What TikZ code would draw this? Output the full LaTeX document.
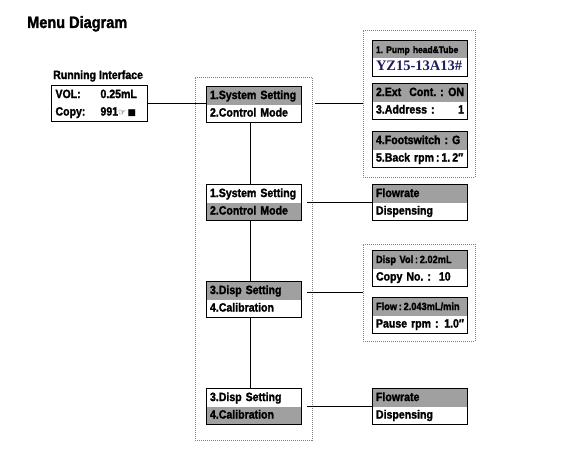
\documentclass[tikz,border=0pt]{standalone}
\usepackage{fontspec}
\setmainfont{Liberation Sans}[FakeStretch=0.88, BoldFont={Liberation Sans Bold}, BoldFeatures={FakeBold=1.6}]
\newfontfamily\serifbf{Liberation Serif}
\newfontfamily\symfont{DejaVu Sans}
\usepackage{xcolor}
\usepackage{tikz}
\definecolor{menugray}{RGB}{160,160,160}
\definecolor{codenavy}{RGB}{28,28,96}
\frenchspacing

\begin{document}
\begin{tikzpicture}[x=1pt,y=-1pt]
	\tikzstyle{every node}+=[inner sep=0pt]
	\tikzstyle{row}=[rectangle, minimum width=94pt, minimum height=17.5pt, text width=88pt, align=left, text height=8.6pt, text depth=2pt, font=\bfseries\fontsize{12}{14}\selectfont]
	\tikzstyle{hirow}=[row, fill=menugray]
	\tikzstyle{smallrow}=[font=\bfseries\fontsize{10.5}{12}\selectfont]
	\tikzstyle{boxline}=[black, line width=1pt]
	\tikzstyle{frame}=[draw=gray, line width=0.6pt, dash pattern=on 1pt off 1pt]
	\tikzstyle{link}=[black, line width=0.8pt]
	\useasboundingbox (0,0) rectangle (573,452);
	\node[anchor=base west, font=\bfseries\fontsize{16.5}{19}\selectfont] (title) at (27,28) {Menu Diagram};
	\node[anchor=base west, font=\bfseries\fontsize{12}{14}\selectfont] (runlabel) at (53,79) {Running Interface};
	% dotted frames
	\node[frame, minimum width=117pt, minimum height=363pt] (menu) at (253.5,258.5) {};
	\node[frame, minimum width=112pt, minimum height=147pt] (c1) at (419,103.5) {};
	\node[frame, minimum width=112pt, minimum height=97pt] (c2) at (419,292.5) {};
	% running interface
	\node[row, minimum width=95pt] (runa) at (99.5,94.75) {\makebox[45pt][l]{VOL:}0.25mL};
	\node[row, minimum width=95pt] (runb) at (99.5,112.25) {\makebox[45pt][l]{Copy:}991{\symfont\mdseries\fontsize{9}{9}\selectfont ☞\,■}};
	\draw[boxline] (runa.north west) rectangle (runb.south east);
	% menu column
	\node[hirow] (sys1a) at (254,95.75) {1.System Setting};
	\node[row] (sys1b) at (254,113.25) {2.Control Mode};
	\draw[boxline] (sys1a.north west) rectangle (sys1b.south east);
	\node[row] (ctl2a) at (254,193.75) {1.System Setting};
	\node[hirow] (ctl2b) at (254,211.25) {2.Control Mode};
	\draw[boxline] (ctl2a.north west) rectangle (ctl2b.south east);
	\node[hirow] (disp3a) at (254,290.75) {3.Disp Setting};
	\node[row] (disp3b) at (254,308.25) {4.Calibration};
	\draw[boxline] (disp3a.north west) rectangle (disp3b.south east);
	\node[row] (cal4a) at (254,397.75) {3.Disp Setting};
	\node[hirow] (cal4b) at (254,415.25) {4.Calibration};
	\draw[boxline] (cal4a.north west) rectangle (cal4b.south east);
	% system setting items
	\node[hirow, font=\bfseries\fontsize{9.6}{11}\selectfont] (pumpa) at (420,49.75) {1.\ Pump head\&Tube};
	\node[row, font=\serifbf\bfseries\fontsize{14.5}{16}\selectfont, text=codenavy] (pumpb) at (420,67.25) {YZ15-13A13\#};
	\draw[boxline] (pumpa.north west) rectangle (pumpb.south east);
	\node[hirow] (exta) at (420,92.75) {2.Ext\ \ Cont.\ :\hfill ON\hspace{4pt}};
	\node[row] (extb) at (420,110.25) {3.Address :\hfill 1\hspace{6pt}};
	\draw[boxline] (exta.north west) rectangle (extb.south east);
	\node[hirow] (foota) at (420,140.75) {4.Footswitch\ :\ G};
	\node[row] (footb) at (420,158.25) {5.Back rpm\,:\,1.\,2″};
	\draw[boxline] (foota.north west) rectangle (footb.south east);
	% control mode items
	\node[hirow] (flow1a) at (420,193.75) {Flowrate};
	\node[row] (flow1b) at (420,211.25) {Dispensing};
	\draw[boxline] (flow1a.north west) rectangle (flow1b.south east);
	% disp setting items
	\node[hirow, smallrow] (dispa) at (420,259.75) {Disp Vol\,:\,2.02mL};
	\node[row] (dispb) at (420,277.25) {Copy No.\ :\ \ 10};
	\draw[boxline] (dispa.north west) rectangle (dispb.south east);
	\node[hirow, smallrow] (ratea) at (420,306.75) {Flow\,:\,2.043mL/min};
	\node[row] (rateb) at (420,324.25) {Pause rpm\ :\hfill 1.0″};
	\draw[boxline] (ratea.north west) rectangle (rateb.south east);
	% calibration items
	\node[hirow] (flow2a) at (420,397.75) {Flowrate};
	\node[row] (flow2b) at (420,415.25) {Dispensing};
	\draw[boxline] (flow2a.north west) rectangle (flow2b.south east);
	% connectors
	\draw[link] (runa.south east) -- (runa.south east -| sys1a.west);
	\draw[link, shorten <=3pt] (menu.east |- c1.west) -- (c1.west);
	\draw[link] ([xshift=-4pt]sys1b.south) -- ([xshift=-4pt]ctl2a.north);
	\draw[link, shorten <=6pt] (ctl2a.south east) -- (flow1a.south west);
	\draw[link] ([xshift=-4pt]ctl2b.south) -- ([xshift=-4pt]disp3a.north);
	\draw[link, shorten <=6pt] (disp3a.east |- c2.west) -- (c2.west);
	\draw[link] ([xshift=-4pt]disp3b.south) -- ([xshift=-4pt]cal4a.north);
	\draw[link, shorten <=6pt] (cal4a.south east) -- (flow2a.south west);
\end{tikzpicture}
\end{document}
